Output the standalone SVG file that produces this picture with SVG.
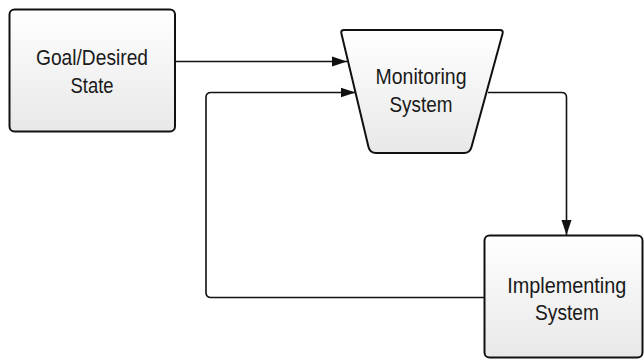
<svg xmlns="http://www.w3.org/2000/svg" width="644" height="360" viewBox="0 0 644 360">
<style>
.node{stroke:#111;stroke-width:2;fill:url(#g)}
.lbl{font-family:"Liberation Sans",Arial,sans-serif;font-size:22px;fill:#1a1a1a;text-anchor:middle}
.conn{fill:none;stroke:#111;stroke-width:1.6}
</style>
<defs>
<linearGradient id="g" x1="0" y1="0" x2="0" y2="1">
<stop offset="0" stop-color="#ffffff"/>
<stop offset="1" stop-color="#e8e8e8"/>
</linearGradient>
<marker id="ah" markerUnits="userSpaceOnUse" markerWidth="16" markerHeight="12" refX="15" refY="6" orient="auto">
<path d="M0,1 L15,6 L0,11 z" fill="#111"/>
</marker>
</defs>
<g id="connectors">
<path class="conn" d="M175,61.5 H347" marker-end="url(#ah)"/>
<path class="conn" d="M488,92.5 H561.5 Q566.5,92.5 566.5,97.5 V235" marker-end="url(#ah)"/>
<path class="conn" d="M484,297.5 H211 Q206,297.5 206,292.5 V97.5 Q206,92.5 211,92.5 H355.5" marker-end="url(#ah)"/>
</g>
<g id="goal">
<rect class="node" x="9.5" y="9.5" width="165.5" height="122" rx="5"/>
<text class="lbl" x="92" y="65" textLength="112" lengthAdjust="spacingAndGlyphs">Goal/Desired</text>
<text class="lbl" x="92" y="92.5" textLength="43" lengthAdjust="spacingAndGlyphs">State</text>
</g>
<g id="monitoring">
<path class="node" d="M344,30 H500 Q503.5,30 502.6,33.5 L471.5,147 Q470,153 464,153 H376 Q370,153 368.5,147 L341.4,33.5 Q340.5,30 344,30 Z"/>
<text class="lbl" x="421" y="84" textLength="91" lengthAdjust="spacingAndGlyphs">Monitoring</text>
<text class="lbl" x="421" y="111.5" textLength="63" lengthAdjust="spacingAndGlyphs">System</text>
</g>
<g id="implementing">
<rect class="node" x="484.5" y="235.5" width="158" height="122" rx="5"/>
<text class="lbl" x="566.7" y="292.5" textLength="119" lengthAdjust="spacingAndGlyphs">Implementing</text>
<text class="lbl" x="567" y="320" textLength="64" lengthAdjust="spacingAndGlyphs">System</text>
</g>
</svg>
